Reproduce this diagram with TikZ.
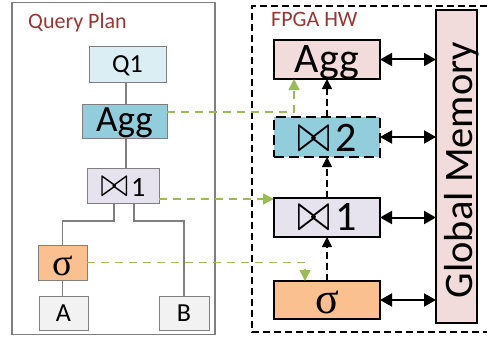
\documentclass[tikz,border=0pt]{standalone}
\usepackage{fontspec}
\usepackage{graphicx}
\setmainfont{Carlito}
\newfontfamily\grkf{Liberation Serif}
\usetikzlibrary{arrows.meta}
\definecolor{qred}{HTML}{953735}
\definecolor{qgray}{HTML}{7F7F7F}
\definecolor{cQ}{HTML}{DAEEF3}
\definecolor{cAgg}{HTML}{92CDDC}
\definecolor{cJoin}{HTML}{E6E3EE}
\definecolor{cSel}{HTML}{FAC090}
\definecolor{cLeaf}{HTML}{F2F2F2}
\definecolor{cPink}{HTML}{F2DCDB}
\definecolor{cGreen}{HTML}{9BBB59}
\newcommand{\btq}{{\fontsize{10}{10}\selectfont\scalebox{3.3}[4.1]{$\bowtie$}}}
\newcommand{\bth}{{\fontsize{10}{10}\selectfont\scalebox{4.0}[5.3]{$\bowtie$}}}
\tikzset{
  qbox/.style={draw=qgray, line width=1pt, inner sep=0pt, outer sep=0pt, text depth=0pt},
  hbox/.style={draw=black, line width=2pt, inner sep=0pt, outer sep=0pt, minimum width=106pt, text depth=0pt},
  tree/.style={draw=qgray, line width=1.2pt},
  title/.style={anchor=base west, text=qred, inner sep=0pt, font=\fontsize{22}{22}\selectfont},
  vdash/.style={draw=black, line width=1.6pt, dash pattern=on 7pt off 4pt, -{Triangle[length=10pt,width=10pt]}},
  memarrow/.style={draw=black, line width=2pt, {Triangle[length=12pt,width=13pt]}-{Triangle[length=12pt,width=13pt]}},
  gdash/.style={draw=cGreen, line width=1.5pt, dash pattern=on 8pt off 6pt, -{Triangle[length=11pt,width=11pt]}},
}
\begin{document}
\begin{tikzpicture}[x=1pt,y=-1pt]
\useasboundingbox (0,0) rectangle (487,337);

% ---------------- Query plan ----------------
\node[draw=qgray, line width=1.2pt, minimum width=203pt, minimum height=331.5pt, inner sep=0pt] (qp) at (113.5,168.5) {};
\node[title] (qpl) at (28,28.5) {Query Plan};

\node[qbox, fill=cQ, minimum width=77pt, minimum height=35pt, text height=16pt,
      font=\fontsize{26}{26}\selectfont] (q1) at (127.5,64.5) {Q1};
\node[qbox, fill=cAgg, minimum width=85pt, minimum height=34pt, text height=21.4pt,
      font=\fontsize{37}{37}\selectfont] (aggq) at (124.5,121) {Agg};
\node[qbox, fill=cJoin, minimum width=72pt, minimum height=35pt, text height=21pt] (j1q) at (123,185.5)
      {\btq\hspace{3pt}{\fontsize{28}{28}\selectfont 1}};
\node[qbox, fill=cSel, minimum width=49pt, minimum height=35pt, text height=25pt] (sq) at (62.5,262.5)
      {{\grkf\fontsize{38}{38}\selectfont σ}};
\node[qbox, fill=cLeaf, minimum width=49pt, minimum height=34pt, text height=16pt,
      font=\fontsize{26}{26}\selectfont] (aq) at (63.5,313) {A};
\node[qbox, fill=cLeaf, minimum width=50pt, minimum height=34pt, text height=16pt,
      font=\fontsize{26}{26}\selectfont] (bq) at (184,313) {B};

\coordinate (tx) at (126,0);
\coordinate (jl) at (114,221);
\coordinate (jr) at (134,221);
\draw[tree] (q1.south -| tx) -- (aggq.north -| tx);
\draw[tree] (aggq.south -| tx) -- (j1q.north -| tx);
\draw[tree] (jl |- j1q.south) -- (jl) -| (sq.north);
\draw[tree] (jr |- j1q.south) -- (jr) -| (bq.north);
\draw[tree] (sq.south) -- (sq.south |- aq.north);

% ---------------- FPGA HW ----------------
\draw[black, line width=1.5pt, dash pattern=on 7pt off 4pt] (487,6) -- (252,6) -- (252,332) -- (487,332);
\node[title] (hwl) at (271,27) {FPGA HW};

\node[hbox, fill=cPink, minimum height=39pt, text height=25pt,
      font=\fontsize{42}{42}\selectfont] (aggh) at (327,59.5) {Agg};
\node[hbox, fill=cAgg, dash pattern=on 10pt off 5pt, minimum height=40pt, text height=28pt] (j2h) at (327,137)
      {\bth\hspace{5pt}{\fontsize{42}{42}\selectfont 2}};
\node[hbox, fill=cJoin, minimum height=39pt, text height=25pt] (j1h) at (327,217.5)
      {\bth\hspace{5pt}{\fontsize{42}{42}\selectfont 1}};
\node[hbox, fill=cSel, minimum height=38pt, text height=26pt] (sh) at (327,300)
      {{\grkf\fontsize{44}{44}\selectfont σ}};
\node[draw=black, line width=1.8pt, fill=cPink, inner sep=0pt, outer sep=0pt,
      minimum width=41pt, minimum height=313pt] (mem) at (456.5,166.5) {};
\node[rotate=90, anchor=base, inner sep=0pt, font=\fontsize{40.5}{40.5}\selectfont] (memt) at (472,170) {Global Memory};

\draw[vdash] (sh.north) -- (j1h.south);
\draw[vdash] (j1h.north) -- (j2h.south);
\draw[vdash] (j2h.north) -- (aggh.south);

\draw[memarrow] (aggh.east) -- (aggh.east -| mem.west);
\draw[memarrow] (j2h.east) -- (j2h.east -| mem.west);
\draw[memarrow] (j1h.east) -- (j1h.east -| mem.west);
\draw[memarrow] (sh.east) -- (sh.east -| mem.west);

% ---------------- mapping arrows ----------------
\draw[gdash] ([yshift=9pt]aggq.east) -| ([xshift=-33pt]aggh.south);
\draw[gdash] ([yshift=-13.5pt]j1q.east) -- ([yshift=-13.5pt]j1q.east -| j1h.west);
\draw[gdash] (sq.east) -| ([xshift=-22pt]sh.north);
\end{tikzpicture}
\end{document}
